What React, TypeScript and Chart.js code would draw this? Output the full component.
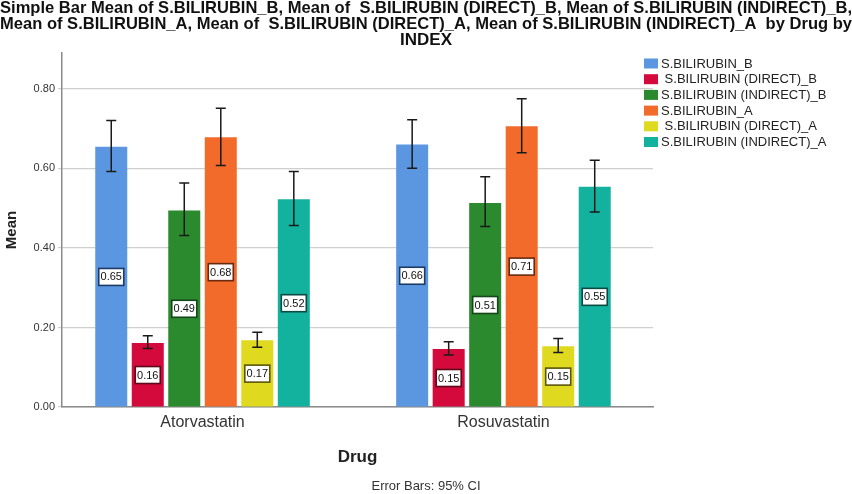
import React, { useEffect, useRef } from "react";
import { Chart, registerables } from "chart.js";

Chart.register(...registerables);

// ---- data ----
const drugs = ["Atorvastatin", "Rosuvastatin"];

const seriesLabels = [
  "S.BILIRUBIN_B",
  " S.BILIRUBIN (DIRECT)_B",
  "S.BILIRUBIN (INDIRECT)_B",
  "S.BILIRUBIN_A",
  " S.BILIRUBIN (DIRECT)_A",
  "S.BILIRUBIN (INDIRECT)_A",
];

const bilB = [0.654, 0.66];
const bilDirectB = [0.161, 0.146];
const bilIndirectB = [0.494, 0.513];
const bilA = [0.678, 0.706];
const bilDirectA = [0.168, 0.153];
const bilIndirectA = [0.522, 0.554];

// 95% CI bounds
const bilBLow = [0.592, 0.6];
const bilBHigh = [0.72, 0.722];
const bilDirectBLow = [0.147, 0.131];
const bilDirectBHigh = [0.179, 0.164];
const bilIndirectBLow = [0.431, 0.454];
const bilIndirectBHigh = [0.563, 0.579];
const bilALow = [0.607, 0.639];
const bilAHigh = [0.751, 0.775];
const bilDirectALow = [0.15, 0.137];
const bilDirectAHigh = [0.188, 0.172];
const bilIndirectALow = [0.456, 0.49];
const bilIndirectAHigh = [0.592, 0.62];

const yTicks = [0, 0.2, 0.4, 0.6, 0.8];

const means = [bilB, bilDirectB, bilIndirectB, bilA, bilDirectA, bilIndirectA];
const lows = [bilBLow, bilDirectBLow, bilIndirectBLow, bilALow, bilDirectALow, bilIndirectALow];
const highs = [bilBHigh, bilDirectBHigh, bilIndirectBHigh, bilAHigh, bilDirectAHigh, bilIndirectAHigh];

const fills = ["#5b97e1", "#d50a3c", "#2b8a2e", "#f26b2b", "#dfd91f", "#13b29f"];
const edges = ["#1d3a66", "#5c0a1a", "#15461a", "#6a2a10", "#5a560a", "#0b4a43"];

const FONT = "'Liberation Sans', Arial, sans-serif";

const errorBars = {
  id: "errorBars",
  afterDatasetsDraw(chart: Chart) {
    const { ctx } = chart;
    const y = chart.scales.y;
    ctx.save();
    ctx.strokeStyle = "#1a1a1a";
    ctx.lineWidth = 1.5;
    chart.data.datasets.forEach((_, di) => {
      const meta = chart.getDatasetMeta(di);
      meta.data.forEach((bar: any, i) => {
        const top = y.getPixelForValue(highs[di][i]);
        const bot = y.getPixelForValue(lows[di][i]);
        ctx.beginPath();
        ctx.moveTo(bar.x, top);
        ctx.lineTo(bar.x, bot);
        ctx.moveTo(bar.x - 5, top);
        ctx.lineTo(bar.x + 5, top);
        ctx.moveTo(bar.x - 5, bot);
        ctx.lineTo(bar.x + 5, bot);
        ctx.stroke();
      });
    });
    ctx.restore();
  },
};

const valueLabels = {
  id: "valueLabels",
  afterDatasetsDraw(chart: Chart) {
    const { ctx } = chart;
    const y = chart.scales.y;
    ctx.save();
    ctx.font = `11px ${FONT}`;
    ctx.textAlign = "center";
    ctx.textBaseline = "middle";
    chart.data.datasets.forEach((ds: any, di) => {
      const meta = chart.getDatasetMeta(di);
      meta.data.forEach((bar: any, i) => {
        const v = ds.data[i].y as number;
        const text = v.toFixed(2);
        const cy = y.getPixelForValue(v / 2);
        const w = 25;
        const h = 17;
        ctx.fillStyle = "#ffffff";
        ctx.fillRect(bar.x - w / 2, cy - h / 2, w, h);
        ctx.strokeStyle = edges[di];
        ctx.lineWidth = 1.6;
        ctx.strokeRect(bar.x - w / 2, cy - h / 2, w, h);
        ctx.fillStyle = "#111";
        ctx.fillText(text, bar.x, cy + 0.5);
      });
    });
    ctx.restore();
  },
};

const sideLegend = {
  id: "sideLegend",
  afterDraw(chart: Chart) {
    const { ctx } = chart;
    ctx.save();
    ctx.font = `13px ${FONT}`;
    ctx.textBaseline = "middle";
    ctx.textAlign = "left";
    chart.data.datasets.forEach((ds: any, i) => {
      const cy = 63.5 + i * 15.7;
      ctx.fillStyle = ds.backgroundColor;
      ctx.fillRect(644, cy - 5, 14, 10);
      ctx.fillStyle = "#222";
      ctx.fillText(ds.label, 661, cy + 0.5);
    });
    ctx.restore();
  },
};

export default function App() {
  const canvasRef = useRef<HTMLCanvasElement | null>(null);

  useEffect(() => {
    const ctx = canvasRef.current?.getContext("2d");
    if (!ctx) return;

    const chart = new Chart(ctx, {
      type: "bar",
      data: {
        datasets: means.map((vals, di) => ({
          label: seriesLabels[di],
          data: vals.map((v, i) => ({ x: i, y: v })),
          yAxisID: "y",
          backgroundColor: fills[di],
          borderWidth: 0,
          categoryPercentage: 0.728,
          barPercentage: 0.877,
        })),
      },
      options: {
        responsive: true,
        maintainAspectRatio: false,
        animation: false,
        layout: { padding: 0 },
        scales: {
          x: {
            type: "linear",
            min: -0.467,
            max: 1.497,
            offset: false,
            afterFit: (scale: any) => { scale.height = 72; },
            afterBuildTicks: (scale: any) => { scale.ticks = drugs.map((_, i) => ({ value: i })); },
            grid: { display: false, drawTicks: false, offset: false },
            border: { display: true, color: "#8a8a8a", width: 1.5 },
            ticks: {
              padding: 6,
              color: "#333",
              font: { family: FONT, size: 16 },
              callback: (v: any) => drugs[v] ?? "",
            },
            title: {
              display: true,
              text: "Drug",
              color: "#222",
              font: { family: FONT, size: 17, weight: "bold" },
              padding: { top: 4, bottom: 12 },
            },
          },
          y: {
            min: 0,
            max: 0.89,
            afterFit: (scale: any) => { scale.width = 62; },
            afterBuildTicks: (scale: any) => { scale.ticks = yTicks.map((value) => ({ value })); },
            grid: { color: "#cfcfcf", lineWidth: 1.2, tickLength: 4 },
            border: { display: true, color: "#8a8a8a", width: 1.5 },
            ticks: {
              padding: 3,
              color: "#333",
              font: { family: FONT, size: 11 },
              callback: (v: any) => Number(v).toFixed(2),
            },
            title: {
              display: true,
              text: "Mean",
              color: "#222",
              font: { family: FONT, size: 15, weight: "bold" },
              padding: { top: 3, bottom: 0 },
            },
          },
          // empty right-hand strip that leaves room for the legend
          legendGap: {
            type: "linear",
            position: "right",
            display: true,
            afterFit: (scale: any) => { scale.width = 199; },
            grid: { display: false },
            border: { display: false },
            ticks: { display: false },
          },
        },
        plugins: {
          legend: { display: false },
          tooltip: { enabled: false },
          title: {
            display: true,
            text: [
              "Simple Bar Mean of S.BILIRUBIN_B, Mean of  S.BILIRUBIN (DIRECT)_B, Mean of S.BILIRUBIN (INDIRECT)_B,",
              "Mean of S.BILIRUBIN_A, Mean of  S.BILIRUBIN (DIRECT)_A, Mean of S.BILIRUBIN (INDIRECT)_A  by Drug by",
              "INDEX",
            ],
            color: "#111",
            font: { family: FONT, size: 17, weight: "bold", lineHeight: 0.94 },
            padding: { top: 0, bottom: 5 },
          },
          subtitle: {
            display: true,
            position: "bottom",
            text: "Error Bars: 95% CI",
            color: "#333",
            font: { family: FONT, size: 13, lineHeight: 1.15 },
            padding: { top: 0, bottom: 0 },
          },
        },
      },
      plugins: [errorBars, valueLabels, sideLegend],
    });

    return () => chart.destroy();
  }, []);

  return (
    <div style={{ position: "absolute", left: 0, top: 0, width: 852, height: 494, background: "#fff" }}>
      <canvas ref={canvasRef} />
    </div>
  );
}
